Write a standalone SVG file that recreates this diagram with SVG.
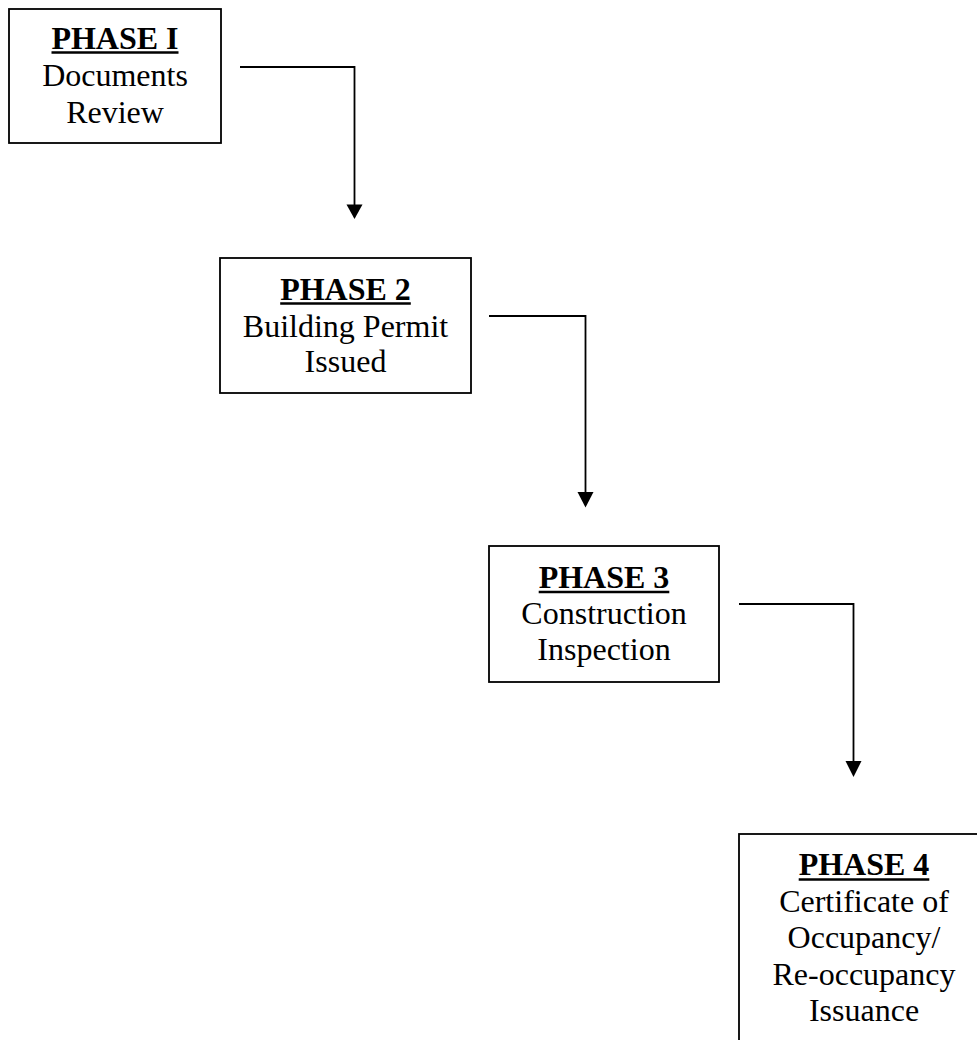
<svg xmlns="http://www.w3.org/2000/svg" width="977" height="1040" viewBox="0 0 977 1040">
  <style>
    .box { fill: #ffffff; stroke: #000000; stroke-width: 1.8; }
    .title { font-family: "Liberation Serif", "Times New Roman", serif; font-size: 32px; font-weight: bold; text-anchor: middle; fill: #000000; }
    .body { font-family: "Liberation Serif", "Times New Roman", serif; font-size: 32px; text-anchor: middle; fill: #000000; }
    .uline { stroke: #000000; stroke-width: 2.6; }
    .wire { fill: none; stroke: #000000; stroke-width: 1.8; }
    .head { fill: #000000; }
  </style>
  <rect width="977" height="1040" fill="#ffffff"/>

  <!-- connectors: elbow lines from each phase down to the next -->
  <g id="connectors">
    <path class="wire" d="M240,67 H354.5 V206"/>
    <polygon class="head" points="346.5,204.5 362.5,204.5 354.5,219"/>
    <path class="wire" d="M489,316 H585.5 V493"/>
    <polygon class="head" points="577.5,492 593.5,492 585.5,507.5"/>
    <path class="wire" d="M739,604 H853.5 V762"/>
    <polygon class="head" points="845.5,761 861.5,761 853.5,777"/>
  </g>

  <g id="phase1">
    <rect class="box" x="9" y="9" width="212" height="134"/>
    <text class="title" x="115" y="48.5">PHASE I</text>
    <line class="uline" x1="51.5" y1="52.5" x2="178.5" y2="52.5"/>
    <text class="body" x="115" y="85.5">Documents</text>
    <text class="body" x="115" y="122.5">Review</text>
  </g>

  <g id="phase2">
    <rect class="box" x="220" y="258" width="251" height="135"/>
    <text class="title" x="345.5" y="300">PHASE 2</text>
    <line class="uline" x1="280.2" y1="303.5" x2="410.8" y2="303.5"/>
    <text class="body" x="345.5" y="336.5">Building Permit</text>
    <text class="body" x="345.5" y="372">Issued</text>
  </g>

  <g id="phase3">
    <rect class="box" x="489" y="546" width="230" height="136"/>
    <text class="title" x="604" y="588">PHASE 3</text>
    <line class="uline" x1="538.7" y1="592" x2="669.3" y2="592"/>
    <text class="body" x="604" y="623.5">Construction</text>
    <text class="body" x="604" y="659.5">Inspection</text>
  </g>

  <g id="phase4">
    <rect class="box" x="739" y="834" width="250" height="230"/>
    <text class="title" x="864" y="875">PHASE 4</text>
    <line class="uline" x1="798.7" y1="879.5" x2="929.3" y2="879.5"/>
    <text class="body" x="864" y="911.5">Certificate of</text>
    <text class="body" x="864" y="948">Occupancy/</text>
    <text class="body" x="864" y="984.5">Re-occupancy</text>
    <text class="body" x="864" y="1021">Issuance</text>
  </g>
</svg>
